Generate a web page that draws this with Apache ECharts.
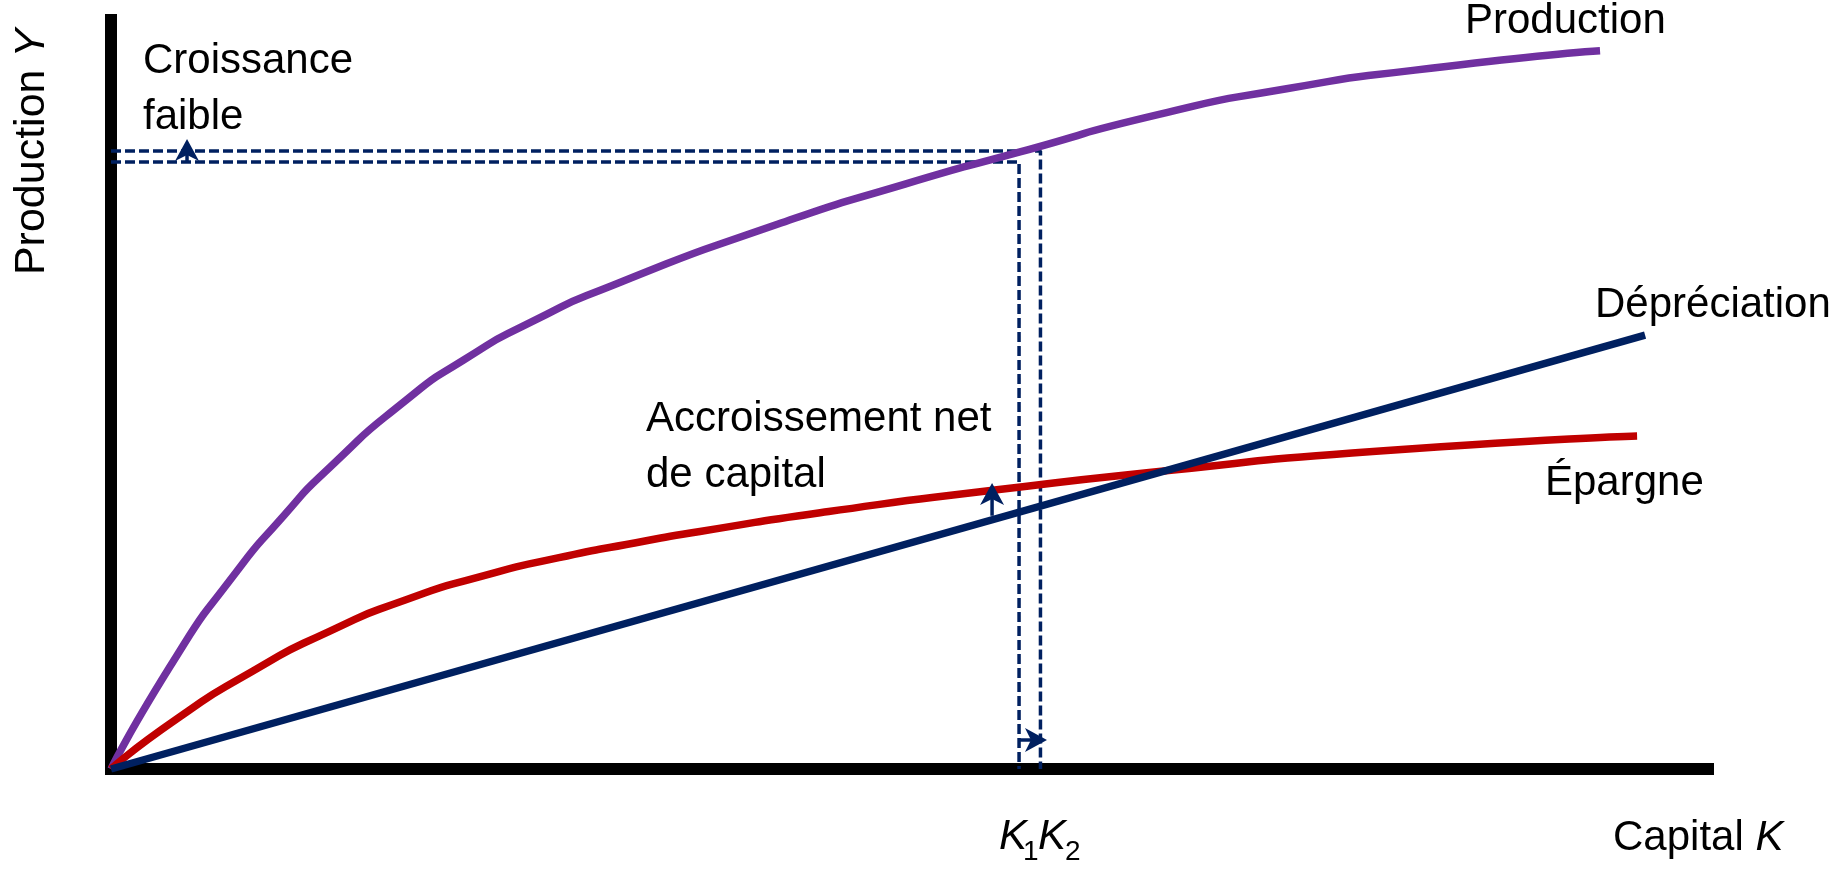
<!DOCTYPE html>
<html>
<head>
<meta charset="utf-8">
<script src="https://cdn.jsdelivr.net/npm/echarts@6/dist/echarts.min.js"></script>
<style>
html,body{margin:0;padding:0;background:#fff;}
#chart{width:1845px;height:870px;}
</style>
</head>
<body>
<div id="chart"></div>
<script>
// Capital K (x) and output values (arbitrary units 0..100)
const productionK = [0, 4.10, 7.45, 10.83, 13.71, 18.47, 22.08, 26.36, 31.43, 41.73, 49.72, 56.86, 65.69, 73.70, 81.65, 93.24];
const productionY = [0, 15.05, 25.19, 33.85, 40.29, 49.23, 54.61, 59.72, 64.59, 72.72, 78.09, 82.35, 87.44, 90.85, 93.31, 95.90];

const epargneK = [0, 4.10, 8.89, 13.71, 18.47, 23.30, 28.05, 32.87, 36.88, 44.94, 55.34, 66.53, 77.71, 95.56];
const epargneY = [0, 6.65, 13.08, 18.42, 22.59, 25.78, 28.21, 30.21, 31.71, 34.37, 37.24, 39.91, 42.18, 44.46];

const depreciationK = [0, 96.06];
const depreciationY = [0, 57.94];

// K1, K2 and the outputs they give
const K1 = 56.86, K2 = 58.2;
const Y1 = 81.04, Y2 = 82.51;

// arrows: shaft [start, end], head position, head direction (deg)
const arrowShafts = [
  [[4.76, 81.04], [4.76, 82.6]],
  [[55.17, 33.8], [55.17, 36.7]],
  [[56.8, 3.87], [57.9, 3.87]]
];
const arrowHeads = [[4.76, 82.64], [55.17, 36.72], [57.92, 3.87]];
const arrowAngles = [0, 0, -90];

const zip = (a, b) => a.map((v, i) => [v, b[i]]);

const NAVY = '#002060';
const FONT = '"Liberation Sans", Arial, sans-serif';

const chart = echarts.init(document.getElementById('chart'), null, {renderer: 'canvas'});

const axisCommon = {
  type: 'value', min: 0, max: 100,
  axisLine: {show: true, onZero: false, lineStyle: {color: '#000', width: 12, cap: 'square'}},
  axisTick: {show: false}, axisLabel: {show: false}, splitLine: {show: false}
};

function txt(text, x, y, extra) {
  return {
    type: 'text', x: x, y: y, z: 100,
    style: Object.assign({text: text, fontSize: 42, fontFamily: FONT, fill: '#000', align: 'left', verticalAlign: 'middle'}, (extra || {}))
  };
}

const dashStyle = {color: NAVY, width: 3.5, type: [10, 4]};
const ARROW = 'path://M12,0 L24,22 L12,16 L0,22 Z';

const series = [
  {type: 'line', data: [[0, Y1], [K1, Y1], [K1, 0]], showSymbol: false, lineStyle: dashStyle, z: 3},
  {type: 'line', data: [[0, Y2], [K2, Y2], [K2, 0]], showSymbol: false, lineStyle: dashStyle, z: 3},
  {name: 'Production', type: 'line', data: zip(productionK, productionY), smooth: 0.7, showSymbol: false,
   lineStyle: {color: '#7030A0', width: 7.5}, z: 4},
  {name: 'Épargne', type: 'line', data: zip(epargneK, epargneY), smooth: 0.7, showSymbol: false,
   lineStyle: {color: '#C00000', width: 7.5}, z: 4},
  {name: 'Dépréciation', type: 'line', data: zip(depreciationK, depreciationY), showSymbol: false,
   lineStyle: {color: NAVY, width: 7.5}, z: 4}
];
arrowShafts.forEach(function (s) {
  series.push({type: 'line', data: s, showSymbol: false, silent: true, lineStyle: {color: NAVY, width: 3.5}, z: 5});
});
series.push({
  type: 'scatter', silent: true, z: 6, symbol: ARROW, symbolSize: [24, 22],
  itemStyle: {color: NAVY, opacity: 1},
  data: arrowHeads.map(function (p, i) { return {value: p, symbolRotate: arrowAngles[i]}; })
});

chart.setOption({
  animation: false,
  backgroundColor: '#fff',
  grid: {left: 111, right: 137, top: 20, bottom: 101},
  xAxis: axisCommon,
  yAxis: axisCommon,
  series: series,
  graphic: [
    txt('Production', 1465, 21),
    txt('Dépréciation', 1595, 305),
    txt('Épargne', 1545, 483),
    txt('Croissance', 143, 61),
    txt('faible', 143, 117),
    txt('Accroissement net', 646, 419),
    txt('de capital', 646, 475),
    txt('{n|Capital }{i|K}', 1613, 838, {rich: {n: {fontSize: 42, fontFamily: FONT}, i: {fontSize: 42, fontFamily: FONT, fontStyle: 'italic'}}}),
    txt('K', 999, 837, {fontStyle: 'italic'}),
    txt('1', 1023, 852, {fontSize: 28}),
    txt('K', 1038, 837, {fontStyle: 'italic'}),
    txt('2', 1065, 852, {fontSize: 28}),
    {type: 'text', x: 32, y: 152, rotation: Math.PI / 2, z: 100,
     style: {text: '{n|Production }{i|Y}', align: 'center', verticalAlign: 'middle', fill: '#000',
       rich: {n: {fontSize: 43, fontFamily: FONT}, i: {fontSize: 43, fontFamily: FONT, fontStyle: 'italic'}}}}
  ]
});
</script>
</body>
</html>
